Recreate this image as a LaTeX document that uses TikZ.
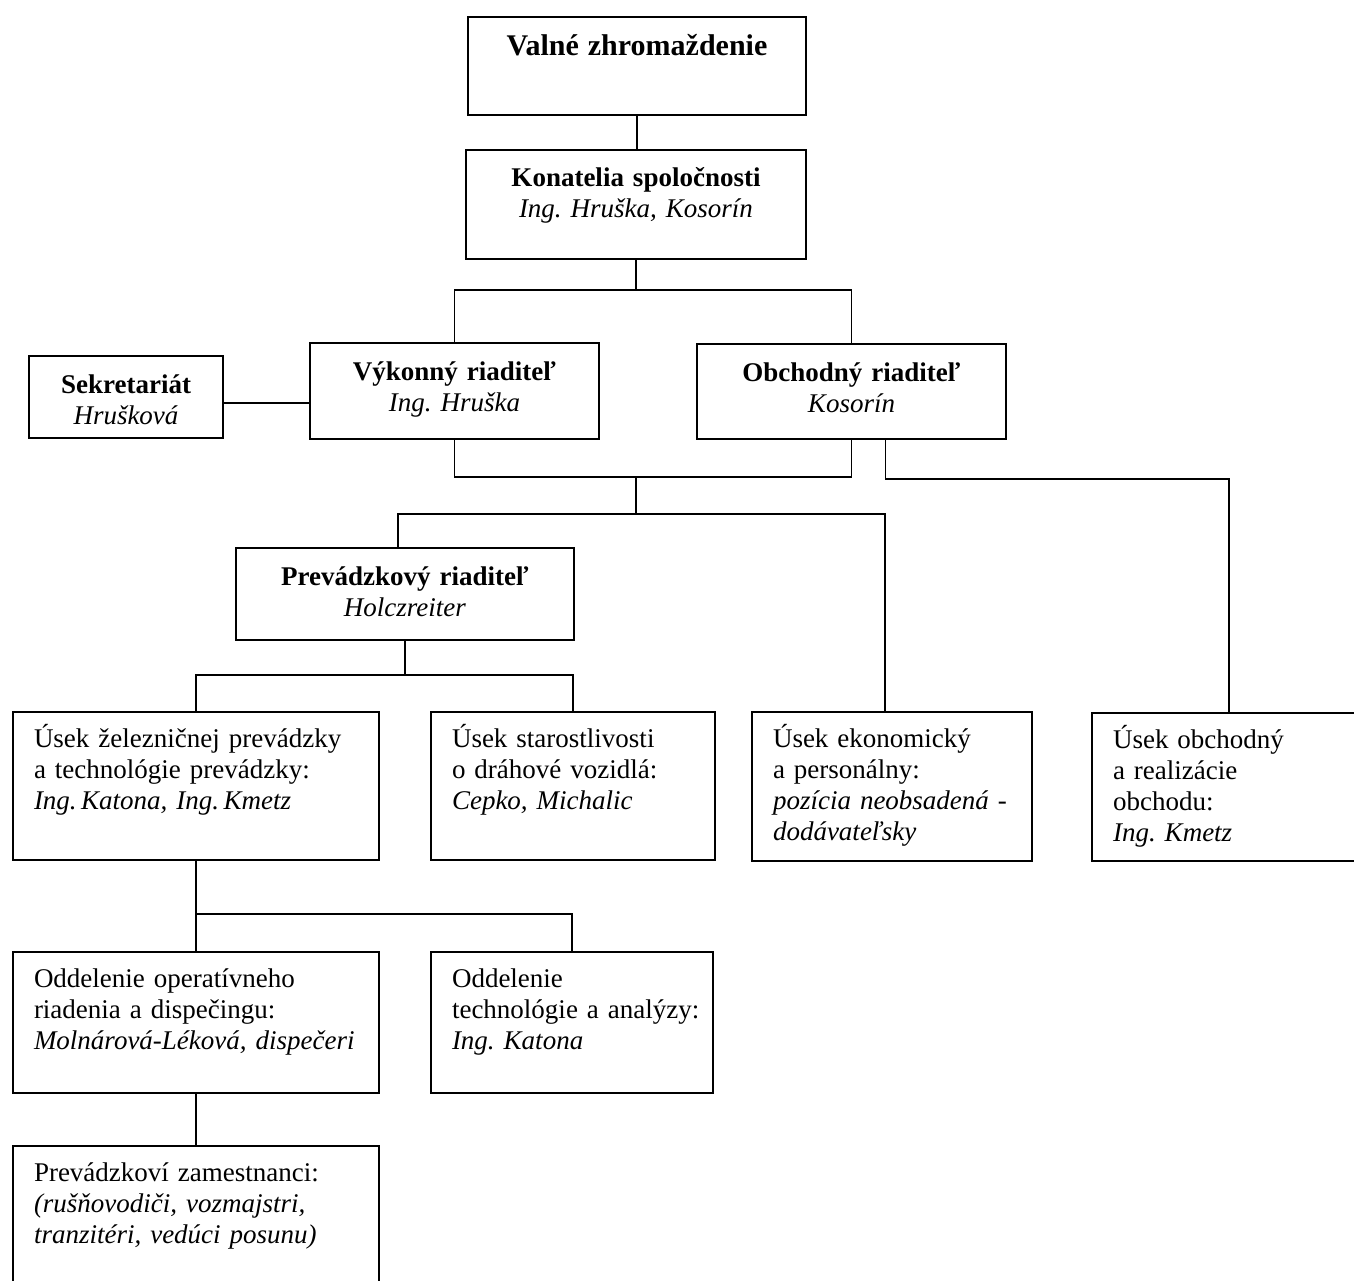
\documentclass[tikz,border=0pt]{standalone}
\usepackage{fontspec}
\setmainfont{Liberation Serif}
\usetikzlibrary{positioning}
\frenchspacing
\newcommand{\orgfont}{\fontsize{27pt}{31pt}\selectfont}
\tikzset{
    box/.style = {draw, line width=2pt, anchor=north west, inner xsep=21pt, inner ysep=0pt, font=\orgfont},
    head/.style = {box, align=center, text height=37pt},
    dept/.style = {box, align=left, text height=35pt},
    link/.style = {line width=1.7pt}
}
\begin{document}
\begin{tikzpicture}[x=1pt, y=-1pt]
        \useasboundingbox (0,0) rectangle (1354,1281);
        \clip (0,0) rectangle (1354,1281);

        \node [head, text width=296pt, text depth=59pt, text height=39pt] (valne) at (467,16) {\fontsize{30pt}{34pt}\selectfont\textbf{Valné zhromaždenie}};
        \node [head, text width=298pt, text depth=72pt] (konatelia) at (465,149) {\textbf{Konatelia spoločnosti}\\ \textit{Ing. Hruška, Kosorín}};
        \node [head, text width=152pt, text depth=45pt] (sekretariat) at (28,355) {\textbf{Sekretariát}\\ \textit{Hrušková}};
        \node [head, text width=247pt, text depth=59pt] (vykonny) at (309,342) {\textbf{Výkonný riaditeľ}\\ \textit{Ing. Hruška}};
        \node [head, text width=267pt, text depth=58pt] (obchodny) at (696,343) {\textbf{Obchodný riaditeľ}\\ \textit{Kosorín}};
        \node [head, text width=296pt, text depth=55pt] (prevadzkovy) at (235,547) {\textbf{Prevádzkový riaditeľ}\\ \textit{Holczreiter}};

        \node [dept, text width=324pt, text depth=113pt] (usekZel) at (12,711) {Úsek železničnej prevádzky\\ a technológie prevádzky:\\ \textit{Ing.\,Katona, Ing.\,Kmetz}};
        \node [dept, text width=242pt, text depth=113pt] (usekStar) at (430,711) {Úsek starostlivosti\\ o dráhové vozidlá:\\ \textit{Cepko, Michalic}};
        \node [dept, text width=238pt, text depth=114pt] (usekEkon) at (751,711) {Úsek ekonomický\\ a personálny:\\ \textit{pozícia neobsadená} -\\ \textit{dodávateľsky}};
        \node [dept, text width=232pt, text depth=113pt] (usekObch) at (1091,712) {Úsek obchodný\\ a realizácie\\ obchodu:\\ \textit{Ing. Kmetz}};

        \node [dept, text width=324pt, text depth=106pt] (oddOper) at (12,951) {Oddelenie operatívneho\\ riadenia a dispečingu:\\ \textit{Molnárová-Léková,~dispečeri}};
        \node [dept, text width=240pt, text depth=106pt] (oddTech) at (430,951) {Oddelenie\\ \mbox{technológie a analýzy:}\\ \textit{Ing. Katona}};
        \node [dept, text width=324pt, text depth=115pt] (prevZam) at (12,1145) {Prevádzkoví zamestnanci:\\ \textit{(rušňovodiči, vozmajstri,}\\ \textit{tranzitéri, vedúci posunu)}};

        \draw [link] (valne.south) -- (valne.south |- konatelia.north);
        \draw [link] (konatelia.south) -- ++(0,30) coordinate (konSplit);
        \draw [link] (vykonny.north) |- (konSplit) -| (obchodny.north);
        \draw [link] ([yshift=-6pt]sekretariat.east) -- ([yshift=-6pt]sekretariat.east -| vykonny.west);

        \coordinate (dirJoin) at (636,477);
        \draw [link] (vykonny.south) |- (dirJoin) -| (obchodny.south);
        \draw [link] (dirJoin) -- ++(0,37) coordinate (dirSplit);
        \draw [link] ([xshift=-7pt]prevadzkovy.north) |- (dirSplit) -| ([xshift=-7pt]usekEkon.north);
        \draw [link] ([xshift=34pt]obchodny.south) -- ++(0,39) -| (usekObch.north);

        \draw [link] (prevadzkovy.south) -- ++(0,34) coordinate (prevSplit);
        \draw [link] (usekZel.north) |- (prevSplit) -| (usekStar.north);

        \draw [link] (usekZel.south) -- ++(0,53) coordinate (zelSplit);
        \draw [link] (zelSplit) -- (oddOper.north);
        \draw [link] (zelSplit) -| (oddTech.north);
        \draw [link] (oddOper.south) -- (oddOper.south |- prevZam.north);

    \end{tikzpicture}
\end{document}
